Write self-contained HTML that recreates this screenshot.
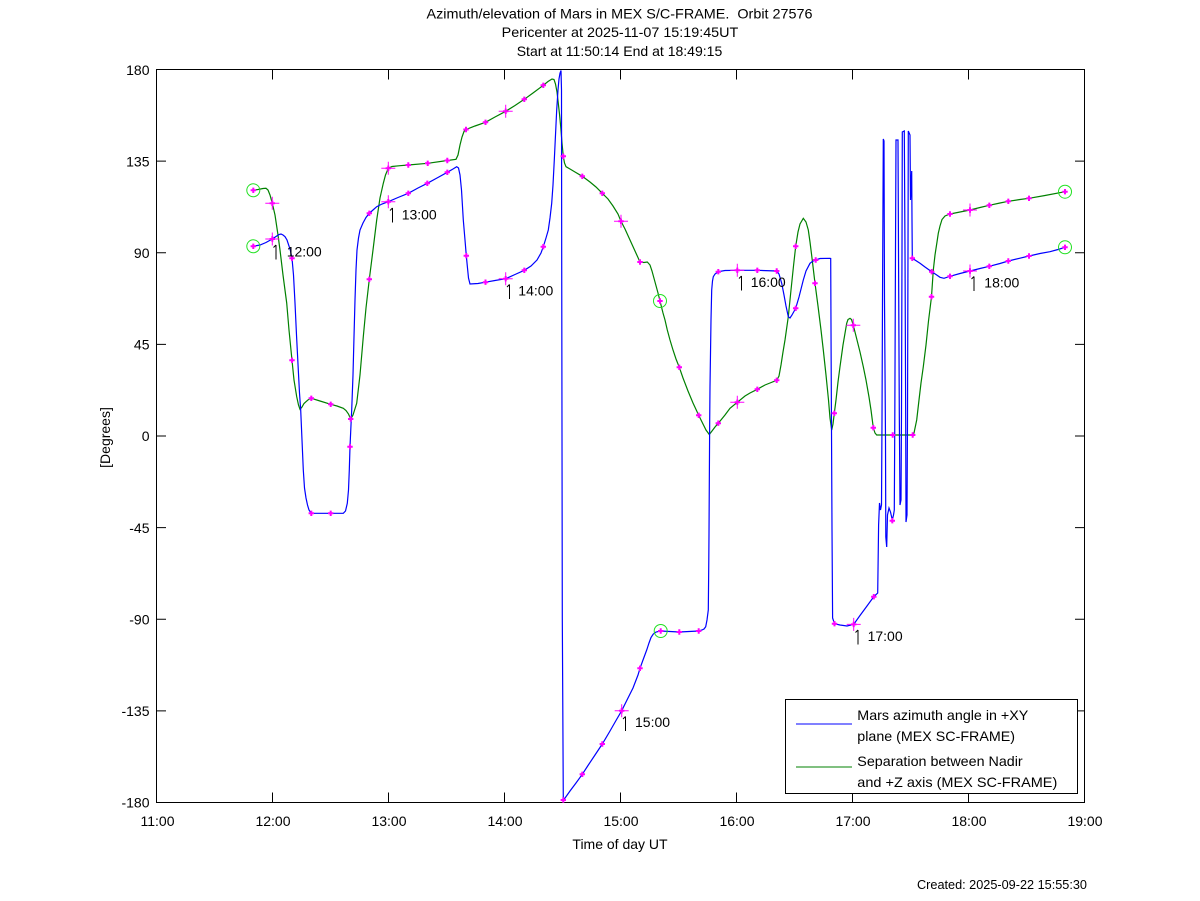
<!DOCTYPE html>
<html>
<head>
<meta charset="utf-8">
<style>
html,body{margin:0;padding:0;background:#fff;}
svg{display:block;}
text{font-family:"Liberation Sans",Arial,Helvetica,sans-serif;fill:#000;}
</style>
</head>
<body>
<svg width="1200" height="901" viewBox="0 0 1200 901" xmlns="http://www.w3.org/2000/svg">
<defs>
<path id="mk" d="M-2.7,-1 H-1 V-2.7 H1 V-1 H2.7 V1 H1 V2.7 H-1 V1 H-2.7 Z" fill="#ff00ff"/>
<g id="cr"><path d="M-7,0 H7 M0,-6.5 V6.5" stroke="#ff00ff" stroke-width="1" fill="none"/><use href="#mk"/></g>
<g id="ci"><circle r="6.5" fill="none" stroke="#22e022" stroke-width="1"/><use href="#mk"/></g>
</defs>
<rect width="1200" height="901" fill="#fff"/>

<!-- Titles -->
<text x="619.5" y="18.5" font-size="14" text-anchor="middle" textLength="386" lengthAdjust="spacingAndGlyphs" xml:space="preserve">Azimuth/elevation of Mars in MEX S/C-FRAME.  Orbit 27576</text>
<text x="620" y="37" font-size="14" text-anchor="middle" textLength="236.6" lengthAdjust="spacingAndGlyphs">Pericenter at 2025-11-07 15:19:45UT</text>
<text x="619.5" y="56" font-size="14" text-anchor="middle" textLength="205.6" lengthAdjust="spacingAndGlyphs">Start at 11:50:14 End at 18:49:15</text>

<!-- Frame -->
<rect x="156.5" y="69.5" width="928" height="733" fill="none" stroke="#000" stroke-width="1"/>
<g stroke="#000" stroke-width="1" fill="none">
<path d="M156.5,161.1h9.5M156.5,252.75h9.5M156.5,344.4h9.5M156.5,436h9.5M156.5,527.6h9.5M156.5,619.25h9.5M156.5,710.9h9.5"/>
<path d="M1084.5,161.1h-9.5M1084.5,252.75h-9.5M1084.5,344.4h-9.5M1084.5,436h-9.5M1084.5,527.6h-9.5M1084.5,619.25h-9.5M1084.5,710.9h-9.5"/>
<path d="M272.5,69.5v10M388.5,69.5v10M504.5,69.5v10M620.5,69.5v10M736.5,69.5v10M852.5,69.5v10M968.5,69.5v10"/>
<path d="M272.5,802.5v-10M388.5,802.5v-10M504.5,802.5v-10M620.5,802.5v-10M736.5,802.5v-10M852.5,802.5v-10M968.5,802.5v-10"/>
</g>

<!-- Y tick labels -->
<g font-size="14" text-anchor="end">
<text x="149.5" y="75">180</text>
<text x="149.5" y="166.5">135</text>
<text x="149.5" y="258">90</text>
<text x="149.5" y="349.5">45</text>
<text x="149.5" y="441">0</text>
<text x="149.5" y="533">-45</text>
<text x="149.5" y="624.5">-90</text>
<text x="149.5" y="716">-135</text>
<text x="149.5" y="807.5">-180</text>
</g>
<!-- X tick labels -->
<g font-size="14" text-anchor="middle">
<text x="157.5" y="826">11:00</text>
<text x="273" y="826">12:00</text>
<text x="389" y="826">13:00</text>
<text x="505" y="826">14:00</text>
<text x="621" y="826">15:00</text>
<text x="737" y="826">16:00</text>
<text x="853" y="826">17:00</text>
<text x="969" y="826">18:00</text>
<text x="1085" y="826">19:00</text>
</g>
<text x="620" y="849" font-size="14" text-anchor="middle">Time of day UT</text>
<text transform="translate(110,437.5) rotate(-90)" font-size="14" text-anchor="middle">[Degrees]</text>
<text x="1087" y="889" font-size="12.5" text-anchor="end" textLength="170" lengthAdjust="spacingAndGlyphs">Created: 2025-09-22 15:55:30</text>

<!-- Green series -->
<polyline fill="none" stroke="#008000" stroke-width="1.2" points="253.3,190.3 258,189.5 263,188.5 266,188.3 268,190 270,195 272.3,203.3 275,215 278,235 280,250 283,275 286.7,303 289,330 292,360.3 294,380 296.7,396.7 298.5,405 300,409.3 302,407 304,403.5 306,401.7 308.5,399.5 311.3,398.3 320,401 330.7,404.3 337,406 343.3,408.3 346,410.5 348.5,414 350.7,419 353,415 356.7,403.3 360,375 363.3,336.7 366,308 369.3,279.3 373,250 376.7,220 380,198 383.3,183.3 385.5,175 388.3,168.3 392,166.5 400,165.7 408.3,165 427.7,163.3 447.3,160.5 456,159.3 458,155 460,145 462,137 464,131.5 466,129.5 475,126 485.5,122.3 495,117 505.7,111.3 515,105.5 524.3,99.3 533,93 543.3,85.3 548,81.5 552,79 554,79.5 555.5,84 557,92 558.3,103.3 559.5,114 560.7,126.7 562,143 563.3,156.3 564.5,163 566,166.7 570,169 575,172 582.3,176.3 590,182 596,187 602.3,193.3 608,199 613,206 618,214 621,221.3 625,229 630,240 635,251 640,262 644,262.5 647.3,262 650,265 652,271 655,282 658,293 660,301 663,313 665,320 667.3,330 670,340 673,350 676,359 679.3,367.3 683,378 688,391 693,403 698.7,415.3 703,424 706,430 709.3,434.5 712,431 715,427 718.3,423.2 725,415 730,408.3 737.3,402.3 745,396 750,393 757.3,389.3 765,385 770,383 776.7,380.3 779,376 781,365 783,352 785,340 788.3,316.7 791,290 793.5,266 795.7,246.3 798,232 800,224 803.3,218.3 806,222 808.3,230 810,242 812,258 815,283.3 818,306 821,330 823.3,350 826,375 828.5,400 830,418 831.7,430 833,424 834.3,413.3 836,400 838,382 840,366.7 843,345 846.7,323.3 848,319.5 850,318.3 851.5,319.5 853.3,325.3 856,336 860,352 863.3,366.7 866,380 869,397 871,410 873.3,427.7 875,433 876.7,435 892.7,435 912.7,435 914,433 916.7,420 919,400 921,383 923.3,366.7 926,345 928.5,321 931.5,296.7 933.3,270 935,255 937,242 938.3,233.3 940,226 942,219.5 945,216 950,214 960,212 970,210 980,207.5 989.3,205.3 1000,203 1008.3,201.3 1020,199.5 1029,198.3 1045,195.5 1065,191.7"/>

<!-- Blue series -->
<polyline fill="none" stroke="#0000ff" stroke-width="1.2" points="253.3,246.3 260,245 266,242.5 272.3,239 276,236.5 279,234.5 281,234 283,235 285,236.7 287,240 289,246 290.5,251 292,258.3 293.5,275 295,303 296.5,335 298.3,370 299.5,393 300.7,410 302,440 303.3,470 304.5,488 306,498 307.5,505 309,510 311.3,513.3 330.7,513.3 343.3,513.3 345.5,511 347.3,503.3 348.5,490 349.3,470 350,446.7 351,425 351.7,410 353,375 354,336.7 355,300 356,270 357,250 358.5,238 360,230 363,223 366,217.5 369.3,213.3 373,210 376.7,206.7 382,204 388.3,201.7 398,197.5 408.3,193.3 418,188 427.3,183.3 437,178 447.3,172.3 453,169 456.7,166.7 458.5,168 460,175 461.5,190 463.3,220 465,240 466.3,255.7 467.5,268 468.5,278 470,284 478,283.5 485.5,282.2 495,280.5 505.7,278.7 515,274.5 524.3,270.3 531,266 537,260 541,253 543.3,246.7 546,238 548.3,230 550,218 551.7,203.3 553,185 554.3,160 555.5,135 556.7,110 558,90 559,79 560,73.3 561,70.5 561.5,90 561.7,253 562.3,617 563.3,800.5 570,791 576,783 582.3,774.3 588,765.5 595,755 602.3,744 610,731 616,720.5 621.7,710.7 627,700 633,688 638,675 640,668.3 643,660 646.7,650 649,643 651,637.5 653.3,634 656,632 660.7,631 679.3,632 698.7,631 702,630 704,629 705.7,626.7 707,620 708.3,610 708.8,560 709,533.3 709.7,420 710,386.7 711,320 711.7,290 712.5,281 713.3,276.7 715,274 718.3,271.7 725,270.5 737.3,270.3 757.3,270.3 776.7,271 779,274 781.7,283.3 784,295 786,306 788.3,316.7 790,318 792,315 795.7,308.3 799,297 803.3,280 806,271 810,263.3 813,261 815.7,260 820,258.5 830,258.3 830.7,258.5 831.1,350 832,529 832.6,618 834.5,623.7 840,625 847,626 853.7,624.4 860,615.5 867,606 873.8,596.7 877.7,593 878.3,548 878.6,525 879.5,503 880.5,510 881.5,505 882,420 882.5,300 883.3,139 884,141 884.5,300 885.5,440 885.8,537 886.7,547 887.5,515 889,508 890.5,512 892.3,520 893.5,515 894.3,510 894.8,420 895.5,250 896,140 898,140 898.5,250 899.3,413 900,505 901,500 901.5,413 902,250 902.3,132 904.3,131 905,250 905.7,420 906,522 907,515 907.5,420 908,250 908.3,131 910,135 910.5,200 911.7,171 912,220 912.3,258.3 920,263.3 925,267 931.7,271.7 936,274.5 940,277.3 944,278.3 950,276.3 960,273.5 970,271 980,268.5 989.3,266.3 1000,263.5 1008.3,261 1020,258.2 1029,256 1040,253.5 1050,251.7 1058,249.5 1065,247.3"/>

<!-- Small markers: green series -->
<g>
<use href="#mk" x="292" y="360.3"/><use href="#mk" x="311.3" y="398.3"/><use href="#mk" x="330.7" y="404.3"/><use href="#mk" x="350.7" y="419"/><use href="#mk" x="369.3" y="279.3"/><use href="#mk" x="408.3" y="165"/><use href="#mk" x="427.7" y="163.3"/><use href="#mk" x="447.3" y="160.5"/><use href="#mk" x="466" y="129.5"/><use href="#mk" x="485.5" y="122.3"/><use href="#mk" x="524.3" y="99.3"/><use href="#mk" x="543.3" y="85.3"/><use href="#mk" x="563.3" y="156.3"/><use href="#mk" x="582.3" y="176.3"/><use href="#mk" x="602.3" y="193.3"/><use href="#mk" x="640" y="262"/><use href="#mk" x="679.3" y="367.3"/><use href="#mk" x="698.7" y="415.3"/><use href="#mk" x="718.3" y="423.2"/><use href="#mk" x="757.3" y="389.3"/><use href="#mk" x="776.7" y="380.3"/><use href="#mk" x="795.7" y="246.3"/><use href="#mk" x="815" y="283.3"/><use href="#mk" x="834.3" y="413.3"/><use href="#mk" x="873.3" y="427.7"/><use href="#mk" x="892.7" y="435"/><use href="#mk" x="912.7" y="435"/><use href="#mk" x="931.5" y="296.7"/><use href="#mk" x="950" y="214"/><use href="#mk" x="989.3" y="205.3"/><use href="#mk" x="1008.3" y="201.3"/><use href="#mk" x="1029" y="198.3"/>
</g>
<!-- Small markers: blue series -->
<g>
<use href="#mk" x="292" y="258.3"/><use href="#mk" x="311.3" y="513.3"/><use href="#mk" x="330.7" y="513.3"/><use href="#mk" x="350" y="446.7"/><use href="#mk" x="369.3" y="213.3"/><use href="#mk" x="408.3" y="193.3"/><use href="#mk" x="427.3" y="183.3"/><use href="#mk" x="447.3" y="172.3"/><use href="#mk" x="466.3" y="255.7"/><use href="#mk" x="485.5" y="282.2"/><use href="#mk" x="524.3" y="270.3"/><use href="#mk" x="543.3" y="246.7"/><use href="#mk" x="563.3" y="800"/><use href="#mk" x="582.3" y="774.3"/><use href="#mk" x="602.3" y="744"/><use href="#mk" x="640" y="668.3"/><use href="#mk" x="679.3" y="632"/><use href="#mk" x="698.7" y="631"/><use href="#mk" x="718.3" y="271.7"/><use href="#mk" x="757.3" y="270.3"/><use href="#mk" x="776.7" y="271"/><use href="#mk" x="795.7" y="308.3"/><use href="#mk" x="815.7" y="260"/><use href="#mk" x="834.5" y="623.7"/><use href="#mk" x="873.8" y="596.7"/><use href="#mk" x="892.3" y="520.7"/><use href="#mk" x="912.3" y="258.3"/><use href="#mk" x="931.7" y="271.7"/><use href="#mk" x="950" y="276.3"/><use href="#mk" x="989.3" y="266.3"/><use href="#mk" x="1008.3" y="261"/><use href="#mk" x="1029" y="256"/>
</g>
<!-- Hour crosses -->
<g>
<use href="#cr" x="272.3" y="203.3"/><use href="#cr" x="388.3" y="168.3"/><use href="#cr" x="505.7" y="111.3"/><use href="#cr" x="621" y="221.3"/><use href="#cr" x="737.3" y="402.3"/><use href="#cr" x="853.3" y="325.3"/><use href="#cr" x="970" y="210"/>
<use href="#cr" x="272.3" y="239"/><use href="#cr" x="388.3" y="201.7"/><use href="#cr" x="505.7" y="278.7"/><use href="#cr" x="621.7" y="710.7"/><use href="#cr" x="737.3" y="270.3"/><use href="#cr" x="853.7" y="624.4"/><use href="#cr" x="970" y="271"/>
</g>
<!-- Circles -->
<g>
<use href="#ci" x="253.3" y="190.3"/><use href="#ci" x="253.3" y="246.3"/><use href="#ci" x="660" y="301"/><use href="#ci" x="660.7" y="631"/><use href="#ci" x="1065" y="191.7"/><use href="#ci" x="1065" y="247.3"/>
</g>

<!-- Hour labels -->
<g stroke="#000" stroke-width="1" fill="none">
<path d="M276,245v14.5M273.5,247.5l2.5,-2.5"/>
<path d="M392.5,208v14.5M390,210.5l2.5,-2.5"/>
<path d="M509.5,284.5v14.5M507,287l2.5,-2.5"/>
<path d="M625.5,716.5v14.5M623,719l2.5,-2.5"/>
<path d="M741.5,276v14.5M739,278.5l2.5,-2.5"/>
<path d="M858,630v14.5M855.5,632.5l2.5,-2.5"/>
<path d="M974,276.5v14.5M971.5,279l2.5,-2.5"/>
</g>
<g font-size="14">
<text x="286.7" y="256.5">12:00</text>
<text x="401.7" y="219.5">13:00</text>
<text x="518.3" y="295.5">14:00</text>
<text x="635" y="727">15:00</text>
<text x="750.7" y="287">16:00</text>
<text x="867.6" y="641">17:00</text>
<text x="984.3" y="287.5">18:00</text>
</g>

<!-- Legend -->
<rect x="785.5" y="699.5" width="292" height="94" fill="#fff" stroke="#000" stroke-width="1"/>
<line x1="796" y1="724" x2="852" y2="724" stroke="#0000ff" stroke-width="1"/>
<line x1="796" y1="767" x2="852" y2="767" stroke="#008000" stroke-width="1"/>
<g font-size="14">
<text x="857.3" y="720" textLength="171" lengthAdjust="spacingAndGlyphs">Mars azimuth angle in +XY</text>
<text x="857.3" y="741" textLength="157.7" lengthAdjust="spacingAndGlyphs">plane (MEX SC-FRAME)</text>
<text x="857.3" y="766" textLength="165.4" lengthAdjust="spacingAndGlyphs">Separation between Nadir</text>
<text x="857.3" y="787" textLength="200" lengthAdjust="spacingAndGlyphs">and +Z axis (MEX SC-FRAME)</text>
</g>
</svg>
</body>
</html>
